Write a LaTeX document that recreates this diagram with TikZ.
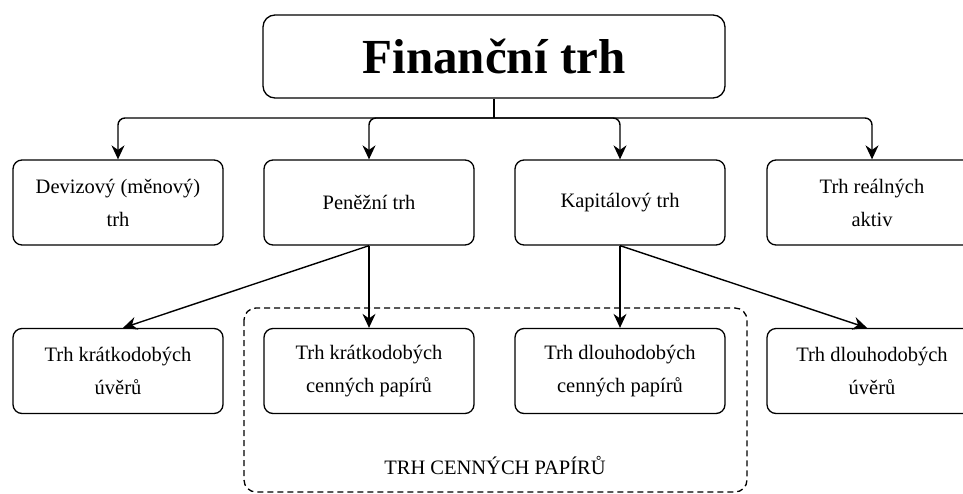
\documentclass[tikz,border=0pt]{standalone}
\usepackage{fontspec}
\setmainfont{Liberation Serif}
\usetikzlibrary{arrows.meta}
\begin{document}
\begin{tikzpicture}[x=1pt,y=-1pt,
  box/.style={draw, line width=1.3pt, rounded corners=9pt, minimum width=210pt, minimum height=85pt, align=center, inner sep=0pt, font=\fontsize{20.5}{33}\selectfont},
  conn/.style={line width=1.4pt, -{Stealth[length=14pt,width=13pt]}},
  group/.style={draw, line width=1.3pt, dash pattern=on 6pt off 4pt, rounded corners=12pt}]
\useasboundingbox (0,0) rectangle (963,493);
\clip (0,0) rectangle (963,493);
\fill[white] (0,0) rectangle (963,493);
% group frame
\draw[group] (244,308) rectangle (747,492);
\node[font=\fontsize{20.5}{24}\selectfont] (glabel) at (495,465) {TRH CENNÝCH PAPÍRŮ};
% top
\node[draw, line width=1.3pt, rounded corners=12pt, minimum width=462pt, minimum height=83pt, font=\fontsize{49}{54}\selectfont\bfseries] (top) at (494,56.5) {Finanční trh};
% row 1
\node[box] (b1) at (118,202.5) {Devizový (měnový)\\trh};
\node[box] (b2) at (369,202.5) {Peněžní trh};
\node[box] (b3) at (620,202.5) {Kapitálový trh};
\node[box] (b4) at (872,202.5) {Trh reálných\\aktiv};
% row 2
\node[box] (c1) at (118,371) {Trh krátkodobých\\úvěrů};
\node[box] (c2) at (369,371) {Trh krátkodobých\\cenných papírů};
\node[box] (c3) at (620,371) {Trh dlouhodobých\\cenných papírů};
\node[box] (c4) at (872,371) {Trh dlouhodobých\\úvěrů};
% connectors
\coordinate (hub) at (top.south |- 0,118);
\draw[line width=1.4pt] (top.south) -- (hub);
\foreach \t in {b1,b2,b3,b4}
  \draw[conn, rounded corners=7pt] (hub) -| (\t.north);
\draw[conn] (b2.south) -- ([xshift=5pt]c1.north);
\draw[conn] (b2.south) -- (c2.north);
\draw[conn] (b3.south) -- (c3.north);
\draw[conn] (b3.south) -- ([xshift=-5pt]c4.north);
\end{tikzpicture}
\end{document}
